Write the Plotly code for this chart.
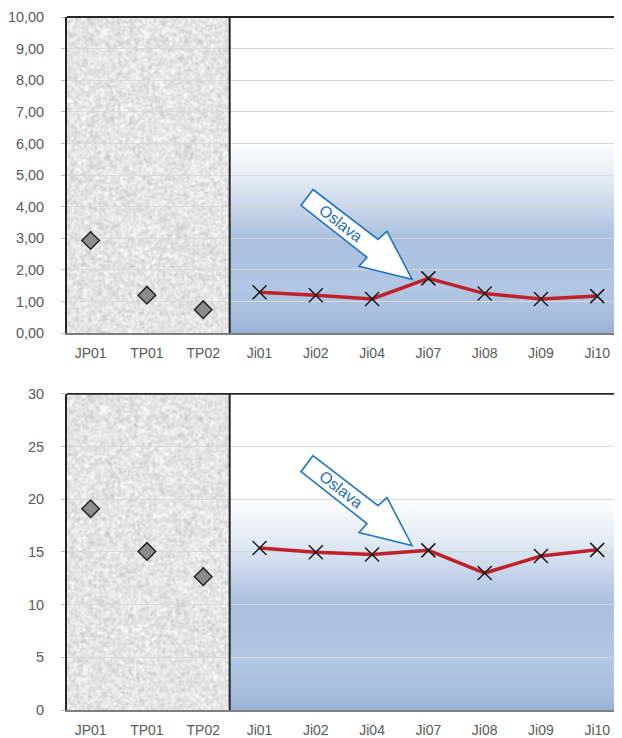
import numpy as np, zlib, struct, base64
import plotly.graph_objects as go

# ---------------- data ----------------
categories = ["JP01", "TP01", "TP02", "Ji01", "Ji02", "Ji04", "Ji07", "Ji08", "Ji09", "Ji10"]
ref_cats = ["JP01", "TP01", "TP02"]
riv_cats = ["Ji01", "Ji02", "Ji04", "Ji07", "Ji08", "Ji09", "Ji10"]

top_ref_vals = [2.93, 1.20, 0.74]
top_riv_vals = [1.29, 1.20, 1.08, 1.73, 1.25, 1.08, 1.17]
bot_ref_vals = [19.1, 15.05, 12.65]
bot_riv_vals = [15.38, 14.97, 14.75, 15.15, 13.0, 14.62, 15.2]

top_range = [0, 10]
bot_range = [0, 30]
arrow_label = "Oslava"

# ---------------- layout constants ----------------
OFF = 8                      # page body margin of the html page
PAGE_W, PAGE_H = 622, 738
W, H = PAGE_W - OFF, PAGE_H - OFF
ML, MR, MT, MB = 67 - OFF, 0, 17 - OFF, PAGE_H - 712
PW, PH = W - ML - MR, H - MT - MB
XR = [-0.42, 9.44]
top_dom = [(PAGE_H - MB - 334) / PH, 1.0]
bot_dom = [0.0, (PAGE_H - MB - 395) / PH]
split_x = 2.47  # boundary between reference sites and river sites (category units)

def px2paper(px, py):
    # page pixel -> paper coords
    return (px - 67) / PW, (PAGE_H - MB - py) / PH

def cat2paper(c):
    return (c - XR[0]) / (XR[1] - XR[0])

# ---------------- texture image ----------------
def make_texture(h, w, seed=7):
    rng = np.random.default_rng(seed)
    n = rng.random((h, w))
    for _ in range(2):
        n = (n + np.roll(n, 1, 0) + np.roll(n, -1, 0) + np.roll(n, 1, 1) + np.roll(n, -1, 1)) / 5
    n = (n - n.mean()) / n.std()
    f = rng.random((h, w)) - 0.5
    g = np.clip(229 + 9 * n + 10 * f, 190, 250).astype(np.uint8)
    rgb = np.stack([g, g, g], -1)
    raw = b"".join(b"\x00" + rgb[i].tobytes() for i in range(h))
    def chunk(t, d):
        return struct.pack(">I", len(d)) + t + d + struct.pack(">I", zlib.crc32(t + d) & 0xFFFFFFFF)
    png = (b"\x89PNG\r\n\x1a\n" + chunk(b"IHDR", struct.pack(">IIBBBBB", w, h, 8, 2, 0, 0, 0))
           + chunk(b"IDAT", zlib.compress(raw, 9)) + chunk(b"IEND", b""))
    return "data:image/png;base64," + base64.b64encode(png).decode()

tex = make_texture(320, 165)

# ---------------- gradient helper ----------------
grad_stops = [(0.0, (252, 253, 254)), (0.2, (226, 234, 245)), (0.5, (170, 191, 222)),
              (0.75, (178, 199, 227)), (0.92, (166, 189, 221)), (1.0, (150, 177, 215))]

def grad_color(t):
    for (t0, c0), (t1, c1) in zip(grad_stops[:-1], grad_stops[1:]):
        if t0 <= t <= t1:
            u = (t - t0) / (t1 - t0) if t1 > t0 else 0
            c = [round(a + (b - a) * u) for a, b in zip(c0, c1)]
            return "rgb(%d,%d,%d)" % tuple(c)
    return "rgb(%d,%d,%d)" % grad_stops[-1][1]

fig = go.Figure()

FONT = "Liberation Sans"
TICKC = "#595959"

def add_panel(xref, yref, ref_vals, riv_vals, dom, grad_top):
    fig.add_trace(go.Scatter(x=ref_cats, y=ref_vals, mode="markers", xaxis=xref, yaxis=yref,
                             marker=dict(symbol="diamond", size=13.5, color="#8c8c8c",
                                         line=dict(color="#262626", width=1.5)),
                             showlegend=False, cliponaxis=False))
    fig.add_trace(go.Scatter(x=riv_cats, y=riv_vals, mode="lines+markers", xaxis=xref, yaxis=yref,
                             line=dict(color="#c0202a", width=3.5),
                             marker=dict(symbol="x-thin", size=14, color="#1a1a1a",
                                         line=dict(color="#1a1a1a", width=1.5)),
                             showlegend=False))
    # gradient background in river part (nested strips drawn top colour first -> no seams)
    N = 60
    for i in range(N):
        t0, t1 = i / N, (i + 1) / N
        y1 = grad_top * (1 - t0)
        fig.add_shape(type="rect", xref=xref, yref=yref, x0=split_x, x1=XR[1], y0=0, y1=y1,
                      fillcolor=grad_color((t0 + t1) / 2), line=dict(width=0), layer="below")
    # textured reference part
    fig.add_layout_image(source=tex, xref="paper", yref="paper", x=0, y=dom[1],
                         sizex=cat2paper(split_x), sizey=dom[1] - dom[0], sizing="stretch",
                         xanchor="left", yanchor="top", layer="below")
    # borders
    fig.add_shape(type="line", xref="paper", yref="paper", x0=0, x1=1, y0=dom[1], y1=dom[1],
                  line=dict(color="#262626", width=1.8))
    fig.add_shape(type="line", xref="paper", yref="paper", x0=cat2paper(split_x), x1=cat2paper(split_x),
                  y0=dom[0], y1=dom[1], line=dict(color="#262626", width=2))

layout_axes = {}
for i, (dom, yr, dt, fmt) in enumerate([(top_dom, top_range, 1, ".2f"), (bot_dom, bot_range, 5, "d")]):
    k = "" if i == 0 else "2"
    layout_axes["xaxis" + k] = dict(domain=[0, 1], range=XR, type="category", categoryorder="array",
                                   categoryarray=categories, anchor="y" + k, showgrid=False,
                                   showline=True, linecolor="#7f7f7f", linewidth=2, ticks="",
                                   tickfont=dict(family=FONT, size=14, color=TICKC),
                                   ticklabelstandoff=6, zeroline=False, fixedrange=True)
    layout_axes["yaxis" + k] = dict(domain=dom, range=yr, dtick=dt, tickformat=fmt, anchor="x" + k,
                                   showgrid=True, gridcolor="#d9d9d9", gridwidth=1.2,
                                   showline=True, linecolor="#262626", linewidth=1.8,
                                   ticks="outside", ticklen=4, tickcolor="#bfbfbf",
                                   tickfont=dict(family=FONT, size=14.5, color=TICKC),
                                   ticklabelstandoff=14, zeroline=False, fixedrange=True)

add_panel("x", "y", top_ref_vals, top_riv_vals, top_dom, 6)
add_panel("x2", "y2", bot_ref_vals, bot_riv_vals, bot_dom, 20)

# ---------------- arrows ----------------
arrow_rel = [(313, 190), (378, 240), (387, 232), (412, 280), (359, 267), (367, 258), (301, 206)]
text0 = (341, 224)
for dy in (0, 267):
    pts = [px2paper(x, y + dy) for x, y in arrow_rel]
    path = "M " + " L ".join("%f,%f" % p for p in pts) + " Z"
    fig.add_shape(type="path", xref="paper", yref="paper", path=path, fillcolor="white",
                  line=dict(color="#2176c0", width=1.6), layer="above")
    tx, ty = px2paper(text0[0], text0[1] + dy)
    fig.add_annotation(x=tx, y=ty, xref="paper", yref="paper", text=arrow_label, showarrow=False,
                       textangle=38, font=dict(family=FONT, size=16, color="#1e6fb8"),
                       xanchor="center", yanchor="middle")

fig.update_layout(width=W, height=H, margin=dict(l=ML, r=MR, t=MT, b=MB),
                  paper_bgcolor="white", plot_bgcolor="white", separators=",.",
                  showlegend=False, **layout_axes)

fig.write_html("out.html", config={"displayModeBar": False})
